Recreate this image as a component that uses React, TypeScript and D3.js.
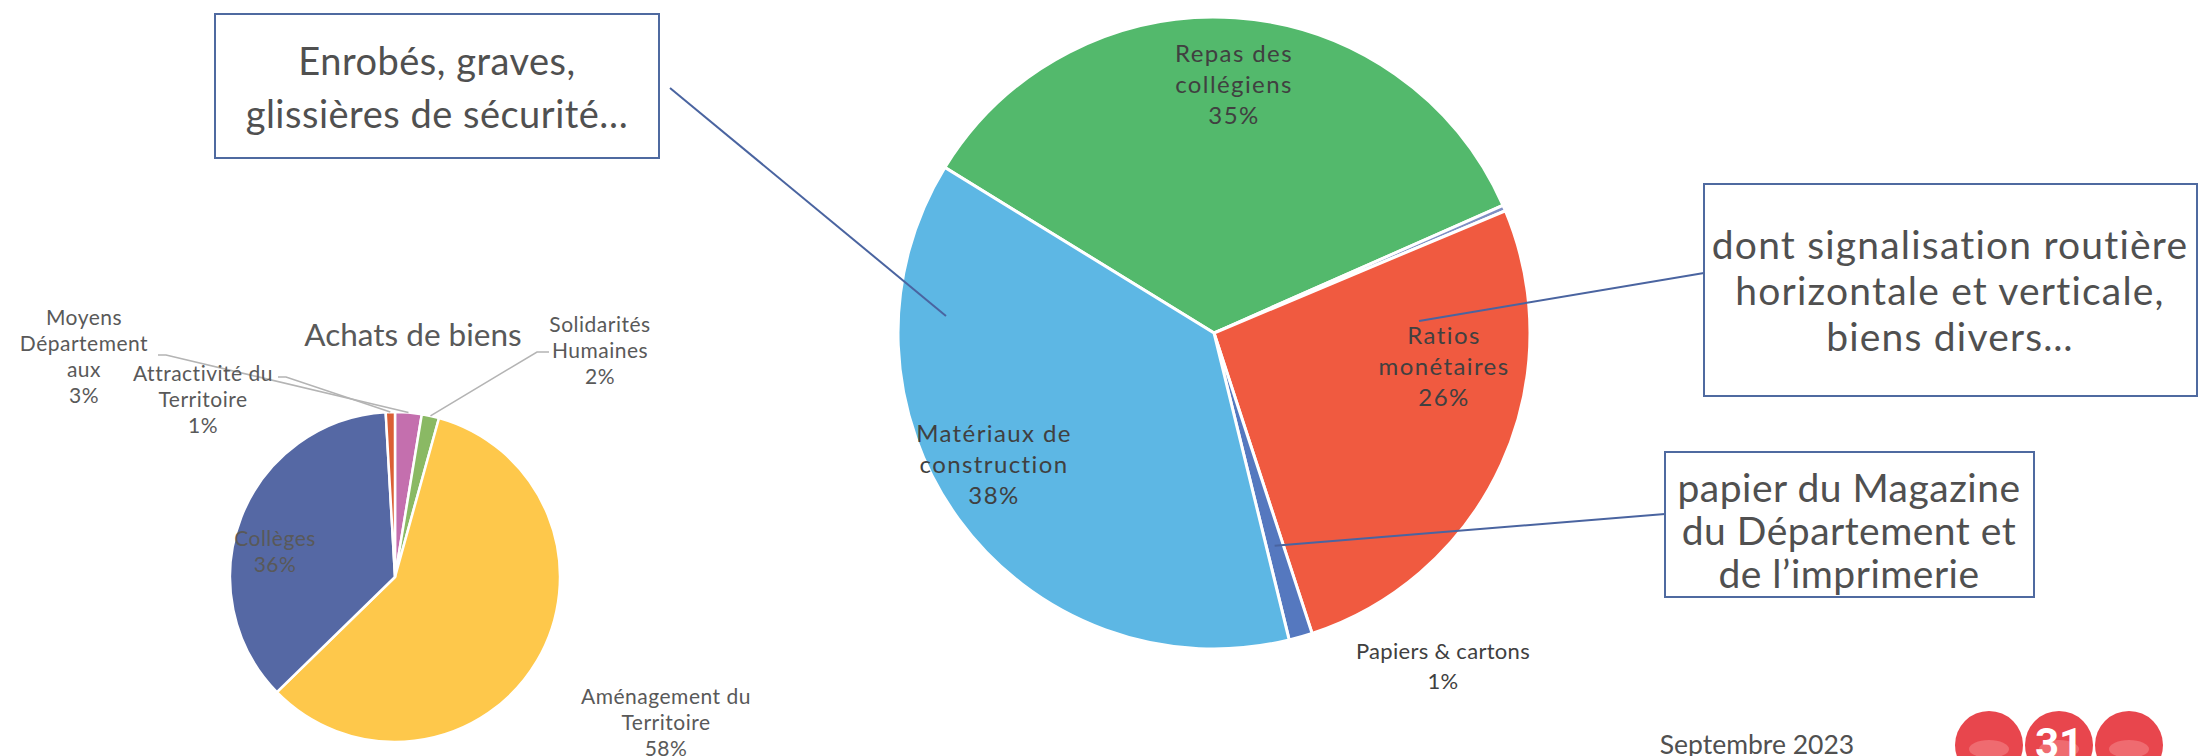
import React, { useEffect } from 'react';
import * as d3 from 'd3';

// "Achats de biens" (small pie), shares in %
const smallNames = ['Moyens Départementaux', 'Solidarités Humaines', 'Aménagement du Territoire', 'Collèges', 'Attractivité du Territoire'];
const smallLines = [['Moyens', 'Département', 'aux'], ['Solidarités', 'Humaines'], ['Aménagement du', 'Territoire'], ['Collèges'], ['Attractivité du', 'Territoire']];
const smallValues = [2.6, 1.7, 58.4, 36.4, 0.9];
const smallColors = ['#c46fae', '#8ab964', '#fec84b', '#5568a4', '#da5f35'];

// big pie, shares in %
const bigNames = ['Repas des collégiens', 'Autres', 'Ratios monétaires', 'Papiers & cartons', 'Matériaux de construction'];
const bigLines = [['Repas des', 'collégiens'], [], ['Ratios', 'monétaires'], ['Papiers & cartons'], ['Matériaux de', 'construction']];
const bigValues = [34.6, 0.3, 26.3, 1.2, 37.6];
const bigColors = ['#53b96c', '#7f8fc4', '#f05a40', '#5578bf', '#5db7e4'];

const callouts = [
  ['Enrobés, graves,', 'glissières de sécurité…'],
  ['dont signalisation routière', 'horizontale et verticale,', 'biens divers…'],
  ['papier du Magazine', 'du Département et', 'de l’imprimerie'],
];

const W = 2199;
const H = 756;
const FONT = "'Century Gothic', Lato, 'Open Sans', sans-serif";

// layout
const small = { cx: 395, cy: 577, r: 165 };
const big = { cx: 1214, cy: 333, r: 316, start: (-58.4 * Math.PI) / 180 };
// label block centres, relative to pie centre
const smallLabelPos = [[-311, -218], [205, -224], [271, 148], [-120, -23], [-192, -175]];
const bigLabelPos = [[20, -246], null, [230, 36], [229, 335], [-220, 134]];

function pct(values: number[], i: number) {
  const sum = d3.sum(values);
  return Math.round((values[i] / sum) * 100) + '%';
}

function Label({ x, y, lines, lh, size, color, ls = 0 }: any) {
  const n = lines.length;
  return (
    <g>
      {lines.map((t: string, i: number) => (
        <text
          key={i}
          x={x}
          y={y + (i - (n - 1) / 2) * lh}
          textAnchor="middle"
          dominantBaseline="middle"
          fontSize={size}
          fill={color}
          fontFamily={FONT}
          letterSpacing={ls}
        >
          {t}
        </text>
      ))}
    </g>
  );
}

export default function App() {
  useEffect(() => {
    document.body.style.margin = '0';
  }, []);

  const smallPie = d3.pie<number>().sort(null).value(d => d)(smallValues);
  const smallArc = d3.arc<d3.PieArcDatum<number>>().innerRadius(0).outerRadius(small.r);

  const bigPie = d3
    .pie<number>()
    .sort(null)
    .value(d => d)
    .startAngle(big.start)
    .endAngle(big.start + 2 * Math.PI)(bigValues);
  const bigArc = d3.arc<d3.PieArcDatum<number>>().innerRadius(0).outerRadius(big.r);

  // point on a slice's mid-angle at a radius
  const polar = (a: d3.PieArcDatum<number>, r: number, cx: number, cy: number) => {
    const m = (a.startAngle + a.endAngle) / 2;
    return [cx + r * Math.sin(m), cy - r * Math.cos(m)];
  };

  // leader lines of the small pie (label side points, then the slice edge)
  const smallLeaders: [number, number[][]][] = [
    [0, [[158, 355], [166, 355]]],
    [4, [[278, 377], [286, 377]]],
    [1, [[549, 352], [537, 352]]],
  ];

  const papierEnd = polar(bigPie[3], big.r * 0.7, big.cx, big.cy);
  const boxLeaders = [
    [[670, 88], [946, 316]],
    [[1704, 273], [1419, 321]],
    [[1665, 514], papierEnd],
  ];
  const boxes = [
    { x: 215, y: 14, w: 444, h: 144, tx: 437, ty: 92, lh: 53, size: 38, ls: 0.5 },
    { x: 1704, y: 184, w: 493, h: 212, tx: 1950, ty: 295, lh: 46, size: 39, ls: 1.2 },
    { x: 1665, y: 452, w: 369, h: 145, tx: 1849, ty: 535, lh: 43, size: 39, ls: 0.5 },
  ];

  return (
    <svg width={W} height={H} style={{ display: 'block', background: '#fff' }}>
      {/* small pie */}
      <g transform={`translate(${small.cx},${small.cy})`}>
        {smallPie.map((a, i) => (
          <path key={i} d={smallArc(a) || ''} fill={smallColors[i]} stroke="#fff" strokeWidth={2.5} />
        ))}
      </g>
      <text x={413} y={338} textAnchor="middle" dominantBaseline="middle" fontSize={31.5} fill="#595959" fontFamily={FONT}>
        Achats de biens
      </text>
      {smallLeaders.map(([i, pts]) => {
        const end = polar(smallPie[i], small.r, small.cx, small.cy);
        return (
          <polyline
            key={i}
            points={[...pts, end].map(p => p.join(',')).join(' ')}
            fill="none"
            stroke="#b4b4b4"
            strokeWidth={1.6}
          />
        );
      })}
      {smallPie.map((a, i) => (
        <Label
          key={i}
          x={small.cx + smallLabelPos[i][0]}
          y={small.cy + smallLabelPos[i][1]}
          lines={[...smallLines[i], pct(smallValues, i)]}
          lh={26}
          size={21}
          ls={0.5}
          color="#595959"
        />
      ))}

      {/* big pie */}
      <g transform={`translate(${big.cx},${big.cy})`}>
        {bigPie.map((a, i) => (
          <path key={i} d={bigArc(a) || ''} fill={bigColors[i]} stroke="#fff" strokeWidth={3} />
        ))}
      </g>
      {bigPie.map((a, i) => {
        const p = bigLabelPos[i];
        if (!p) return null;
        const isOut = i === 3;
        return (
          <Label
            key={i}
            x={big.cx + p[0]}
            y={big.cy + p[1]}
            lines={[...bigLines[i], pct(bigValues, i)]}
            lh={isOut ? 30 : 31}
            size={isOut ? 22 : 24}
            ls={isOut ? 0.3 : 1.4}
            color="#404040"
          />
        );
      })}

      {/* callouts */}
      {boxLeaders.map((pts, i) => (
        <polyline key={i} points={pts.map(p => p.join(',')).join(' ')} fill="none" stroke="#4a64a0" strokeWidth={2} />
      ))}
      {boxes.map((b, i) => (
        <g key={i}>
          <rect x={b.x} y={b.y} width={b.w} height={b.h} fill="#fff" stroke="#4f6aa0" strokeWidth={2} />
          <Label x={b.tx} y={b.ty} lines={callouts[i]} lh={b.lh} size={b.size} ls={b.ls} color="#505050" />
        </g>
      ))}

      {/* footer */}
      <text x={1757} y={754} textAnchor="middle" fontSize={26.5} fill="#505050" fontFamily={FONT}>
        Septembre 2023
      </text>
      {[1989, 2059, 2129].map((x, i) => (
        <g key={i}>
          <circle cx={x} cy={745} r={34} fill="#e8464d" />
          <ellipse cx={x} cy={749} rx={20} ry={9} fill="#ef6b70" />
        </g>
      ))}
      <text x={2059} y={758} textAnchor="middle" fontSize={42} fontWeight="bold" fill="#fff" fontFamily="Roboto, sans-serif">
        31
      </text>
    </svg>
  );
}
